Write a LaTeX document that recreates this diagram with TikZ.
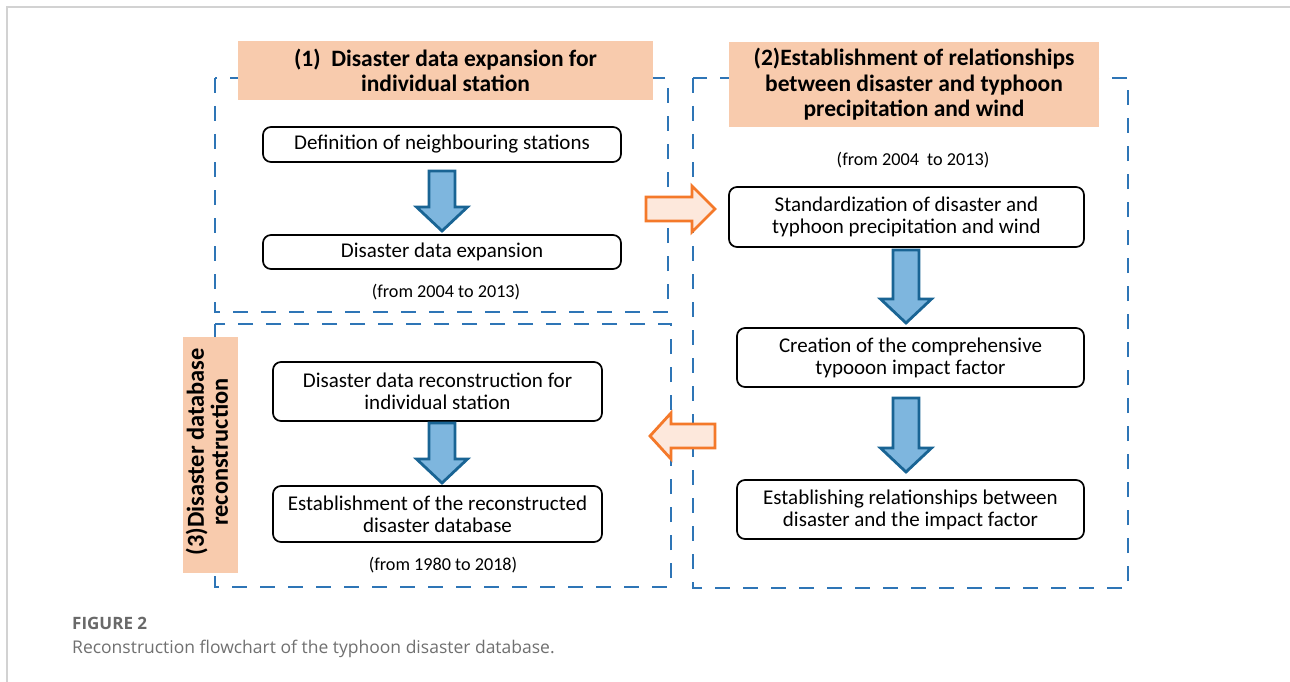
\documentclass[tikz,border=0pt]{standalone}
\usepackage{fontspec}
\setmainfont{Carlito}
\newfontfamily\capfont{Open Sans}
\usetikzlibrary{calc}
\definecolor{dashblue}{RGB}{46,117,182}
\definecolor{titlefill}{RGB}{248,203,173}
\definecolor{arrowfill}{RGB}{126,182,222}
\definecolor{arrowline}{RGB}{25,100,148}
\definecolor{orline}{RGB}{244,121,42}
\definecolor{orfill}{RGB}{253,232,220}
\definecolor{framegray}{RGB}{210,210,210}
\definecolor{capgray}{RGB}{105,105,105}
\begin{document}
\begin{tikzpicture}[x=1pt,y=-1pt,
  stagebox/.style={draw=dashblue, line width=1.4pt, dash pattern=on 15pt off 13pt},
  titlebox/.style={fill=titlefill, inner sep=0pt, font=\bfseries\fontsize{23.5}{25.5}\selectfont, align=center},
  procbox/.style={draw=black, line width=1.7pt, rounded corners=8pt, inner sep=0pt, align=center, font=\fontsize{21}{21.8}\selectfont},
  period/.style={inner sep=0pt, font=\fontsize{18.2}{20}\selectfont},
  downarrow/.style={fill=arrowfill, draw=arrowline, line width=2.8pt, line join=miter},
  sidearrow/.style={fill=orfill, draw=orline, line width=2.8pt, line join=miter},
]
\useasboundingbox (0,0) rectangle (1290,682);
\fill[white] (0,0) rectangle (1290,682);

% page frame (top and left rules)
\draw[framegray, line width=1.3pt] (7,682) -- (7,7) -- (1290,7);

% dashed stage frames
\draw[stagebox] (215,78) rectangle (668,312);
\draw[stagebox] (693,78) rectangle (1128,588);
\draw[stagebox] (215,324) rectangle (671,587);

% stage titles
\node[titlebox, minimum width=415pt, minimum height=59pt] (t1) at (445.5,70.5)
  {(1)\ \ Disaster data expansion for\\individual station};
\node[titlebox, minimum width=370pt, minimum height=85pt] (t2) at (914,84.5)
  {(2)Establishment of relationships\\between disaster and typhoon\\precipitation and wind};
\node[fill=titlefill, inner sep=0pt, minimum width=55pt, minimum height=236pt] (t3) at (210.5,455) {};
\node[inner sep=0pt, rotate=90, align=center, font=\bfseries\fontsize{24.4}{24}\selectfont] (t3text) at (207,452)
  {(3)Disaster database\\reconstruction};

% stage 1
\node[procbox, minimum width=358pt, minimum height=35pt] (b1) at (442,144.5) {Definition of neighbouring stations};
\node[procbox, minimum width=358pt, minimum height=34pt] (b2) at (442,252) {Disaster data expansion};
\node[period] (p1) at (446,292) {(from 2004 to 2013)};

% stage 2
\node[period] (p2) at (913,160) {(from 2004\ \ to 2013)};
\node[procbox, minimum width=355pt, minimum height=60pt] (b3) at (906.5,217) {Standardization of disaster and\\typhoon precipitation and wind};
\node[procbox, minimum width=347pt, minimum height=59pt] (b4) at (910.5,357.5) {Creation of the comprehensive\\typooon impact factor};
\node[procbox, minimum width=347pt, minimum height=59pt] (b5) at (910.5,509.5) {Establishing relationships between\\disaster and the impact factor};

% stage 3
\node[procbox, minimum width=329pt, minimum height=59pt] (b6) at (437.5,391.5) {Disaster data reconstruction for\\individual station};
\node[procbox, minimum width=329pt, minimum height=56pt] (b7) at (437.5,514) {Establishment of the reconstructed\\disaster database};
\node[period] (p3) at (443,565) {(from 1980 to 2018)};

% block arrows: centre x, top y, head start y, tip y
\newcommand\blockdown[4]{%
  \draw[downarrow] (#1-13,#2) -- (#1+13,#2) -- (#1+13,#3) -- (#1+25.5,#3)
    -- (#1,#4) -- (#1-25.5,#3) -- (#1-13,#3) -- cycle;}
\blockdown{442}{171}{207}{231}
\blockdown{906}{250}{299}{323}
\blockdown{906}{398}{448}{472}
\blockdown{442}{423}{459}{483}

% transfer arrows between stages
\draw[sidearrow] (646,197) -- (692,197) -- (692,186) -- (715,209) -- (692,232) -- (692,221) -- (646,221) -- cycle;
\draw[sidearrow] (715,424) -- (671,424) -- (671,413) -- (650,436) -- (671,459) -- (671,448) -- (715,448) -- cycle;

% caption
\node[anchor=base west, inner sep=0pt, text=capgray, font=\capfont\bfseries\fontsize{17}{20}\selectfont] (fig) at (72,629) {FIGURE 2};
\node[anchor=base west, inner sep=0pt, text=capgray!95, font=\capfont\fontsize{17.5}{20}\selectfont] (cap) at (72,653) {Reconstruction flowchart of the typhoon disaster database.};
\end{tikzpicture}
\end{document}
